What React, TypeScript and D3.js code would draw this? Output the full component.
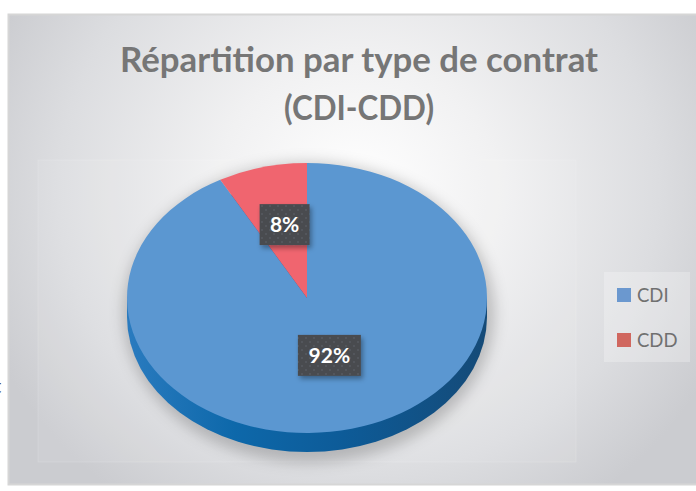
import React from "react";
import * as d3 from "d3";

const categories = ["CDI", "CDD"];
const values = [92, 8];
const labels = ["92%", "8%"];
const topColors = ["#5b97d1", "#f0656f"];
const legendColors = ["#6b98cf", "#d0675f"];
const titleLines = ["Répartition par type de contrat", "(CDI-CDD)"];

const W = 696;
const H = 491;

export default function App() {
  const cx = 307;
  const cy = 298;
  const rx = 180;
  const k = 0.75;
  const depth = 19;
  const labelR = 90;

  const pie = d3.pie<number>().sort(null).value((d) => d);
  const arcs = pie(values);
  const arc = d3.arc<d3.PieArcDatum<number>>().innerRadius(0).outerRadius(rx);

  const legendY = d3.scalePoint<string>().domain(categories).range([295, 340]);
  const titleWidths = [478, 150];

  return (
    <svg
      width={W}
      height={H}
      style={{ position: "absolute", left: 0, top: 0, display: "block" }}
      fontFamily="Lato, 'Open Sans', sans-serif"
    >
      <defs>
        <radialGradient id="bg" gradientUnits="userSpaceOnUse" cx={358} cy={190} r={400}
          gradientTransform="translate(358 190) scale(1 0.95) translate(-358 -190)">
          <stop offset="0" stopColor="#ffffff" />
          <stop offset="0.35" stopColor="#f1f1f2" />
          <stop offset="0.75" stopColor="#dcdde0" />
          <stop offset="1" stopColor="#cbccd0" />
        </radialGradient>
        <linearGradient id="side" gradientUnits="userSpaceOnUse" x1={-rx} x2={rx} y1={0} y2={0}>
          <stop offset="0" stopColor="#2a7bbf" />
          <stop offset="0.3" stopColor="#0d68aa" />
          <stop offset="0.6" stopColor="#0d5b98" />
          <stop offset="1" stopColor="#154a77" />
        </linearGradient>
        <filter id="blur" x="-30%" y="-30%" width="160%" height="160%">
          <feGaussianBlur stdDeviation="7" />
        </filter>
        <filter id="lblShadow" x="-30%" y="-30%" width="160%" height="160%">
          <feDropShadow dx="2" dy="3" stdDeviation="2.5" floodColor="#000" floodOpacity="0.35" />
        </filter>
        <pattern id="dots" width="8" height="8" patternUnits="userSpaceOnUse">
          <rect width="8" height="8" fill="#484b50" />
          <circle cx="2" cy="2" r="1" fill="#575a5f" />
          <circle cx="6" cy="6" r="1" fill="#575a5f" />
        </pattern>
      </defs>

      <rect x={0} y={0} width={W} height={H} fill="#ffffff" />
      <rect x={8.5} y={14.5} width={700} height={470} fill="url(#bg)" stroke="#d6d6d6" strokeWidth={2} />

      {/* plot area */}
      <rect x={38} y={160} width={538} height={302} fill="#ffffff" fillOpacity={0.07} stroke="#ffffff" strokeOpacity={0.15} />
      {/* legend box */}
      <rect x={604} y={272} width={86} height={90} fill="#ffffff" fillOpacity={0.25} />

      {/* title */}
      <g fill="#767676" fontWeight="bold" fontSize={34} textAnchor="middle">
        {titleLines.map((t, i) => (
          <text key={t} x={359} y={72 + i * 48} textLength={titleWidths[i]} lengthAdjust="spacingAndGlyphs">{t}</text>
        ))}
      </g>

      {/* pie shadow */}
      <ellipse cx={cx + 2} cy={cy + depth / 2 + 5} rx={rx + 6} ry={rx * k + depth / 2 + 6}
        fill="#000" fillOpacity={0.2} filter="url(#blur)" />

      {/* 3D pie */}
      <g transform={`translate(${cx},${cy}) scale(1,${k})`}>
        <circle cx={0} cy={depth / k} r={rx} fill="url(#side)" />
        <rect x={-rx} y={0} width={2 * rx} height={depth / k} fill="url(#side)" />
        {arcs.map((a, i) => (
          <path key={categories[i]} d={arc(a) || ""} fill={topColors[i]} />
        ))}
      </g>

      {/* data labels */}
      {arcs.map((a, i) => {
        const mid = (a.startAngle + a.endAngle) / 2;
        const x = cx + labelR * Math.sin(mid);
        const y = cy - k * labelR * Math.cos(mid) - 8;
        const bw = 24 + 13 * labels[i].length;
        const bh = 41;
        return (
          <g key={labels[i]}>
            <rect x={x - bw / 2} y={y - bh / 2} width={bw} height={bh} fill="url(#dots)" filter="url(#lblShadow)" />
            <text x={x} y={y + 7.5} textAnchor="middle" fill="#ffffff" fontWeight="bold" fontSize={21}>
              {labels[i]}
            </text>
          </g>
        );
      })}

      {/* legend */}
      {categories.map((c, i) => {
        const y = legendY(c) as number;
        return (
          <g key={c}>
            <rect x={617} y={y - 7} width={14} height={14} fill={legendColors[i]} />
            <text x={637} y={y + 7} fontSize={18.5} fill="#707070">{c}</text>
          </g>
        );
      })}

      {/* clipped stray glyph on the left edge */}
      <text x={-6} y={393} fontSize={20} fill="#404040">t</text>
    </svg>
  );
}
